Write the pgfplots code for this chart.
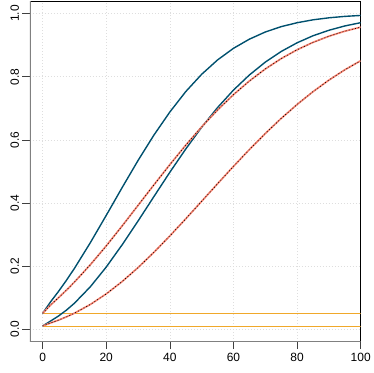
\documentclass[border=0pt]{standalone}
\usepackage{fontspec}
\setmainfont{Liberation Sans}
\usepackage{pgfplots}
\usepackage{pgfplotstable}
\pgfplotsset{compat=1.18}

\definecolor{powteal}{HTML}{00506E}
\definecolor{salmonred}{HTML}{F7826F}
\definecolor{refor}{HTML}{F0A82A}
\definecolor{axgray}{HTML}{808080}

% power curves: A, C solid; B, D dashed
\pgfplotstableread{
x     A       B       C       D
0     0.0500  0.0500  0.0100  0.0100
2.5   0.0865  0.0764  0.0257  0.0196
5     0.1196  0.0996  0.0416  0.0287
7.5   0.1550  0.1237  0.0604  0.0390
10    0.1926  0.1491  0.0822  0.0506
15    0.2740  0.2041  0.1343  0.0782
20    0.3606  0.2639  0.1968  0.1117
25    0.4487  0.3271  0.2673  0.1508
30    0.5345  0.3922  0.3427  0.1951
35    0.6152  0.4574  0.4203  0.2436
40    0.6882  0.5215  0.4973  0.2955
45    0.7529  0.5831  0.5709  0.3497
50    0.8077  0.6411  0.6398  0.4052
55    0.8532  0.6946  0.7023  0.4609
60    0.8900  0.7432  0.7576  0.5159
65    0.9190  0.7865  0.8055  0.5691
70    0.9417  0.8245  0.8462  0.6200
75    0.9587  0.8574  0.8800  0.6679
80    0.9711  0.8854  0.9075  0.7120
85    0.9803  0.9089  0.9298  0.7526
90    0.9867  0.9283  0.9472  0.7892
95    0.9912  0.9443  0.9609  0.8219
100   0.9942  0.9571  0.9713  0.8508
}\powdata

\begin{document}
\begin{tikzpicture}
\begin{axis}[
  width=332pt, height=342pt, scale only axis,
  xmin=-4, xmax=100, ymin=-0.04, ymax=1.04,
  xtick={0,20,40,60,80,100},
  ytick={0,0.2,0.4,0.6,0.8,1.0},
  yticklabel={\pgfmathprintnumber[fixed,fixed zerofill,precision=1]{\tick}},
  yticklabel style={rotate=90, anchor=south},
  ticklabel style={font=\fontsize{12}{14}\selectfont},
  /pgf/number format/assume math mode=true,
  tick pos=left, tick align=outside, major tick length=7.5pt,
  tick style={black!75, line width=0.6pt},
  grid=major, grid style={black!13, line width=0.6pt, dash pattern=on 0.7pt off 2.3pt},
  axis line style={black, line width=0.6pt},
]
\draw[axgray, line width=1.5pt] (rel axis cs:0,0) -- (rel axis cs:0,1);
\draw[axgray, line width=1.5pt] (rel axis cs:0,0) -- (rel axis cs:1,0);
\addplot[refor, line width=0.8pt] coordinates {(0,0.05) (100,0.05)};
\addplot[refor, line width=0.8pt] coordinates {(0,0.01) (100,0.01)};
\addplot[powteal, line width=1.4pt] table[x=x, y=A] {\powdata};
\addplot[powteal, line width=1.4pt] table[x=x, y=C] {\powdata};
\addplot[salmonred, line width=1.7pt] table[x=x, y=B] {\powdata};
\addplot[black, line width=0.6pt, dash pattern=on 1pt off 2.2pt] table[x=x, y=B] {\powdata};
\addplot[salmonred, line width=1.7pt] table[x=x, y=D] {\powdata};
\addplot[black, line width=0.6pt, dash pattern=on 1pt off 2.2pt] table[x=x, y=D] {\powdata};
\end{axis}
\path (current axis.south west) ++(-30pt,-31pt);
\path (current axis.north east) ++(12pt,1pt);
\end{tikzpicture}
\end{document}
